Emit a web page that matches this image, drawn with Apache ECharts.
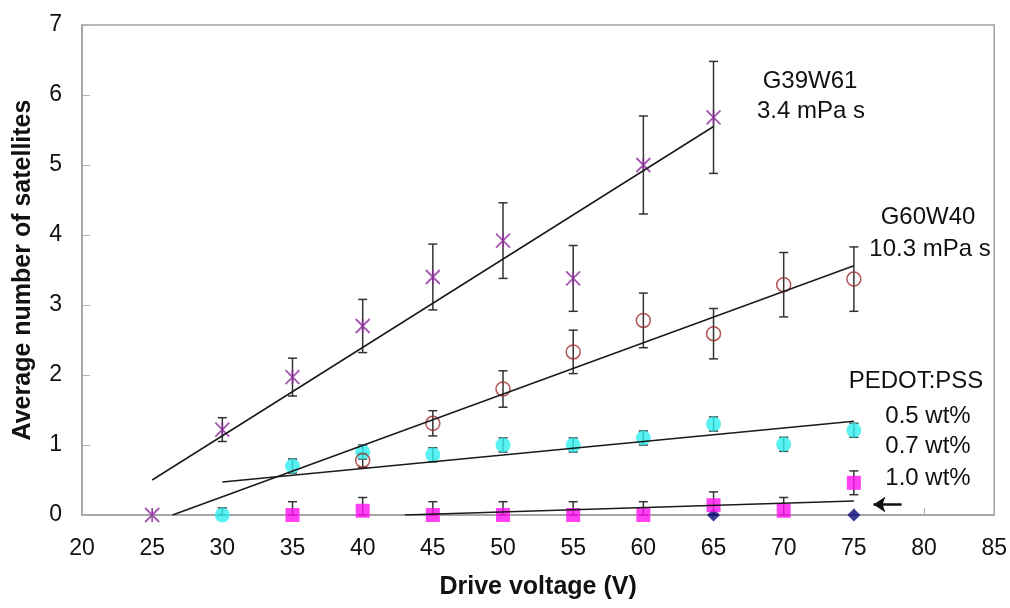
<!DOCTYPE html>
<html>
<head>
<meta charset="utf-8">
<script src="https://cdn.jsdelivr.net/npm/echarts@6/dist/echarts.min.js"></script>
<style>
  html, body { margin: 0; padding: 0; background: #fff; }
  #chart { width: 1010px; height: 608px; }
</style>
</head>
<body>
<div id="chart"></div>
<script>
// G39W61, 3.4 mPa s
const g39Volts = [25, 30, 35, 40, 45, 50, 55, 60, 65];
const g39Mean = [0, 1.22, 1.97, 2.70, 3.40, 3.92, 3.38, 5.00, 5.68];
const g39Err = [0, 0.17, 0.27, 0.38, 0.47, 0.54, 0.47, 0.70, 0.80];
const g39Trend = [[25, 0.5], [65, 5.55]];

// G60W40, 10.3 mPa s
const g60Volts = [40, 45, 50, 55, 60, 65, 70, 75];
const g60Mean = [0.78, 1.31, 1.80, 2.33, 2.78, 2.59, 3.29, 3.37];
const g60Err = [0.10, 0.18, 0.26, 0.31, 0.39, 0.36, 0.46, 0.46];
const g60Trend = [[26.45, 0], [75, 3.56]];

// PEDOT:PSS 0.5 wt%
const p05Volts = [30, 35, 40, 45, 50, 55, 60, 65, 70, 75];
const p05Mean = [0.0, 0.70, 0.90, 0.86, 1.00, 1.00, 1.10, 1.30, 1.01, 1.21];
const p05Err = [0.1, 0.1, 0.1, 0.1, 0.1, 0.1, 0.1, 0.1, 0.1, 0.1];
const p05Trend = [[30, 0.47], [75, 1.34]];

// PEDOT:PSS 0.7 wt%
const p07Volts = [65, 75];
const p07Mean = [0, 0];

// PEDOT:PSS 1.0 wt%
const p10Volts = [35, 40, 45, 50, 55, 60, 65, 70, 75];
const p10Mean = [0, 0.06, 0, 0, 0, 0, 0.14, 0.06, 0.46];
const p10Err = [0.19, 0.19, 0.19, 0.19, 0.19, 0.19, 0.19, 0.19, 0.17];
const p10Trend = [[43, 0], [75, 0.2]];

const arrowFrom = [78.4, 0.15];
const arrowTo = [76.4, 0.15];

const xTicks = { min: 20, max: 85, step: 5 };
const yTicks = { min: 0, max: 7, step: 1 };

const font = 'Liberation Sans, Arial, sans-serif';

const pts = (xs, ys) => xs.map((x, i) => [x, ys[i]]);
const bars = (xs, ys, es) => xs
    .map((x, i) => [x, Math.max(0, ys[i] - es[i]), ys[i] + es[i]])
    .filter(d => d[2] > d[1]);

function renderErr(params, api) {
    const x = api.value(0);
    const top = api.coord([x, api.value(2)]);
    const bot = api.coord([x, api.value(1)]);
    const w = 4.5;
    const style = { stroke: '#333', lineWidth: 1.5 };
    return {
        type: 'group',
        children: [
            { type: 'line', shape: { x1: top[0], y1: top[1], x2: bot[0], y2: bot[1] }, style },
            { type: 'line', shape: { x1: top[0] - w, y1: top[1], x2: top[0] + w, y2: top[1] }, style },
            { type: 'line', shape: { x1: bot[0] - w, y1: bot[1], x2: bot[0] + w, y2: bot[1] }, style }
        ]
    };
}

// error bars stay on the base layer, markers and trend lines go on a layer above
const errSeries = (data) => ({
    type: 'custom',
    renderItem: renderErr,
    encode: { x: 0, y: [1, 2] },
    data,
    z: 1,
    silent: true
});

const trendSeries = (data, extra) => Object.assign({
    type: 'line',
    data,
    symbol: 'none',
    lineStyle: { color: '#1a1a1a', width: 1.5 },
    zlevel: 1,
    z: 5,
    silent: true
}, extra || {});

const chart = echarts.init(document.getElementById('chart'));

const label = (text, x, y) => ({
    type: 'text',
    x, y,
    style: {
        text, fill: '#111', font: '24px ' + font,
        textAlign: 'center', textVerticalAlign: 'middle'
    }
});

const option = {
    backgroundColor: '#fff',
    animation: false,
    grid: {
        left: 82, top: 25, right: 14, bottom: 93,
        show: true, borderColor: '#a0a0a0', borderWidth: 1.5
    },
    xAxis: {
        type: 'value',
        min: xTicks.min, max: xTicks.max, interval: xTicks.step,
        name: 'Drive voltage (V)',
        nameLocation: 'middle',
        nameGap: 60,
        nameTextStyle: { fontFamily: font, fontSize: 25, fontWeight: 'bold', color: '#111' },
        axisLine: { lineStyle: { color: '#a0a0a0', width: 1.5 } },
        axisTick: { inside: true, length: 7, lineStyle: { color: '#b0b0b0' } },
        axisLabel: { fontFamily: font, fontSize: 23, color: '#111', margin: 22 },
        splitLine: { show: false }
    },
    yAxis: {
        type: 'value',
        min: yTicks.min, max: yTicks.max, interval: yTicks.step,
        name: 'Average number of satellites',
        nameLocation: 'middle',
        nameGap: 46,
        nameTextStyle: { fontFamily: font, fontSize: 25, fontWeight: 'bold', color: '#111' },
        axisLine: { show: true, lineStyle: { color: '#a0a0a0', width: 1.5 } },
        axisTick: { show: true, inside: true, length: 8, lineStyle: { color: '#b0b0b0' } },
        axisLabel: { fontFamily: font, fontSize: 23, color: '#111', margin: 20 },
        splitLine: { show: false }
    },
    graphic: [
        label('G39W61', 810, 81),
        label('3.4 mPa s', 811, 111),
        label('G60W40', 928, 217),
        label('10.3 mPa s', 930, 249),
        label('PEDOT:PSS', 916, 381),
        label('0.5 wt%', 928, 416),
        label('0.7 wt%', 928, 446),
        label('1.0 wt%', 928, 478)
    ],
    series: [
        errSeries(bars(g39Volts, g39Mean, g39Err)),
        errSeries(bars(g60Volts, g60Mean, g60Err)),
        errSeries(bars(p05Volts, p05Mean, p05Err)),
        errSeries(bars(p10Volts, p10Mean, p10Err)),
        {
            name: '0.7 wt%', type: 'scatter', data: pts(p07Volts, p07Mean),
            symbol: 'diamond', symbolSize: 13, itemStyle: { color: '#0a0a7a' },
            zlevel: 1, z: 2, clip: false
        },
        {
            name: '1.0 wt%', type: 'scatter', data: pts(p10Volts, p10Mean),
            symbol: 'rect', symbolSize: 14, itemStyle: { color: '#ff10f0' },
            zlevel: 1, z: 3, clip: false
        },
        {
            name: '0.5 wt%', type: 'scatter', data: pts(p05Volts, p05Mean),
            symbol: 'circle', symbolSize: 15, itemStyle: { color: '#30eeee' },
            zlevel: 1, z: 3, clip: false
        },
        {
            name: 'G60W40', type: 'scatter', data: pts(g60Volts, g60Mean),
            symbol: 'circle', symbolSize: 14,
            itemStyle: { color: 'rgba(255,255,255,0)', borderColor: '#a02a2a', borderWidth: 1.5 },
            zlevel: 1, z: 3
        },
        {
            name: 'G39W61', type: 'scatter', data: pts(g39Volts, g39Mean),
            symbol: 'path://M0,0L10,10M10,0L0,10M5,0L5,10', symbolSize: 14,
            itemStyle: { color: 'rgba(0,0,0,0)', borderColor: '#8f2c9c', borderWidth: 1.8 },
            zlevel: 1, z: 3, clip: false
        },
        trendSeries(g39Trend),
        trendSeries(g60Trend),
        trendSeries(p05Trend),
        trendSeries(p10Trend, {
            markLine: {
                silent: true,
                symbol: ['none', 'arrow'],
                symbolSize: 12,
                label: { show: false },
                lineStyle: { color: '#111', width: 2.5, type: 'solid' },
                data: [[{ coord: arrowFrom }, { coord: arrowTo }]]
            }
        })
    ]
};

chart.setOption(option);
window.addEventListener('resize', () => chart.resize());
</script>
</body>
</html>
